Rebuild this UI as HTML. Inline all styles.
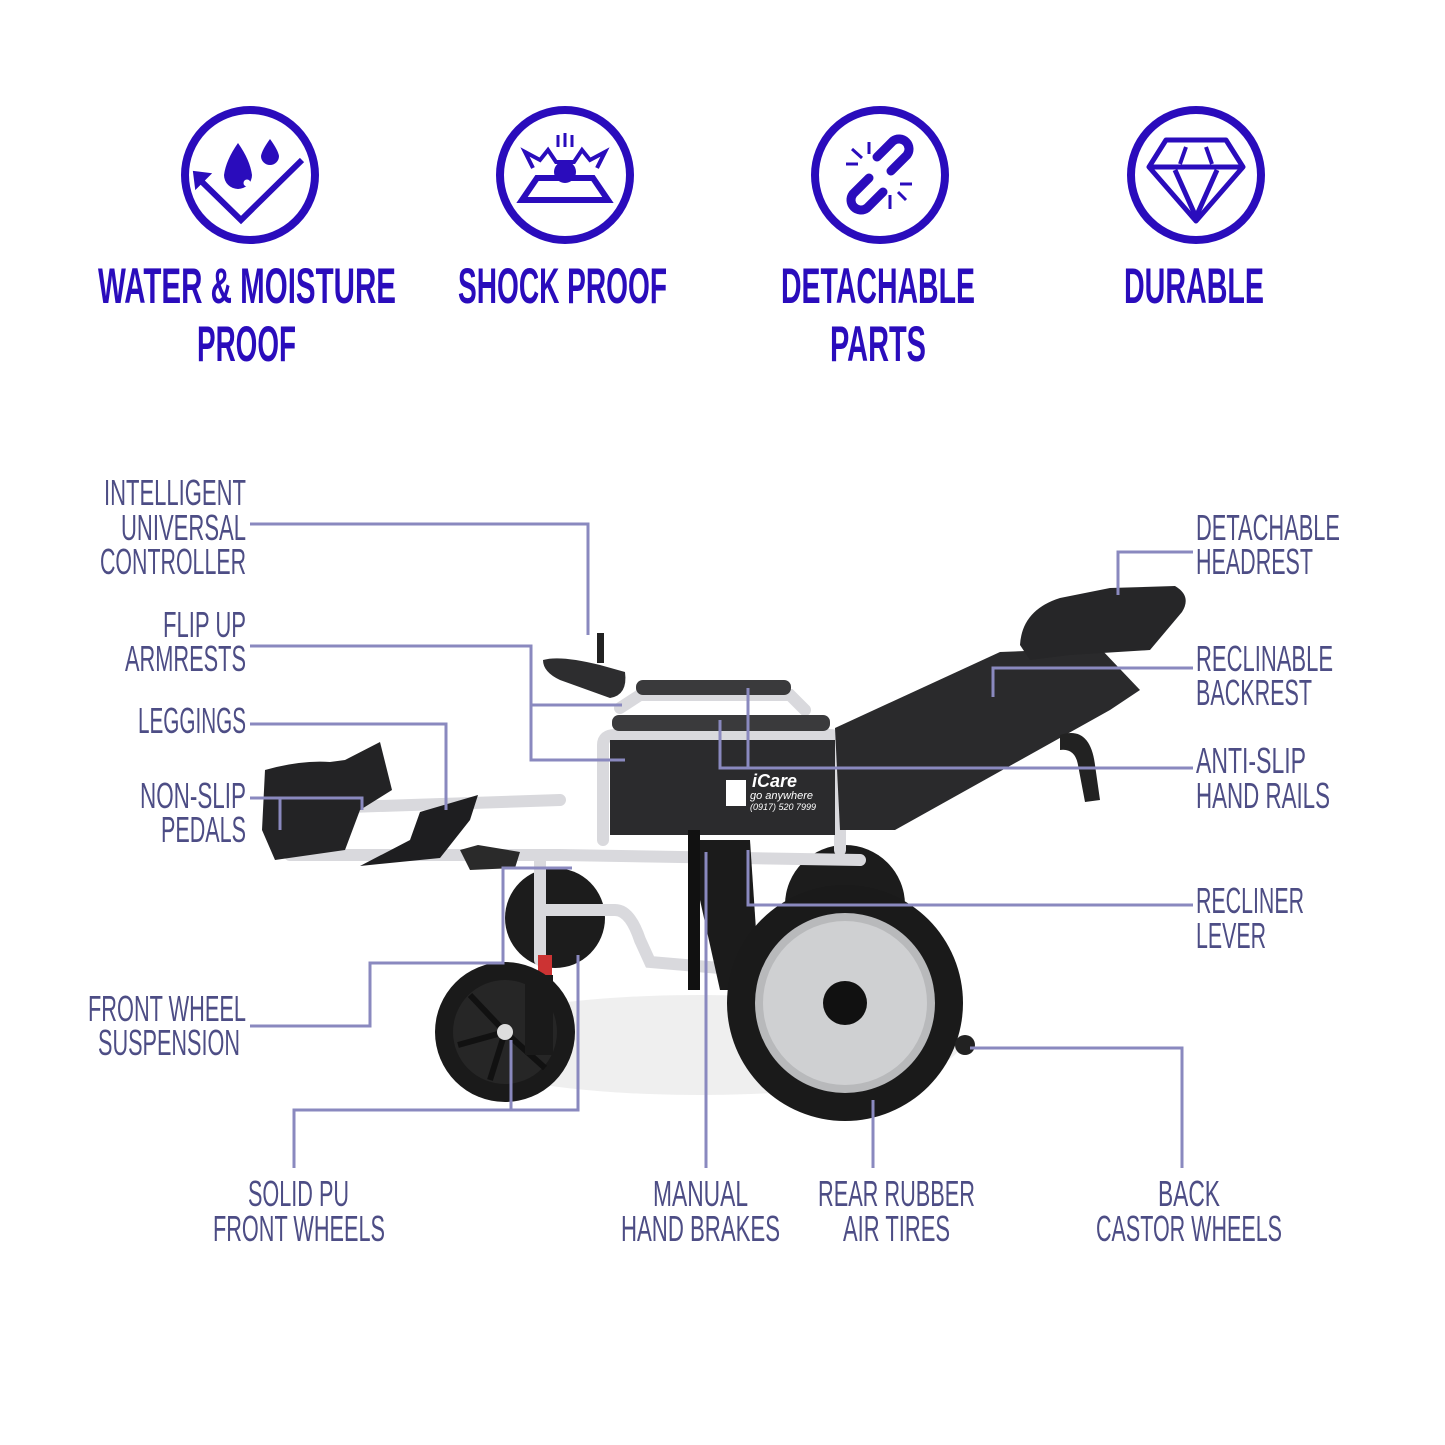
<!DOCTYPE html>
<html><head><meta charset="utf-8"><style>
html,body{margin:0;padding:0;background:#fff;}
svg{display:block}
.t{font-family:"Liberation Sans",sans-serif;font-weight:bold;fill:#2a0cbc;font-size:50px}
.l{font-family:"Liberation Sans",sans-serif;fill:#4d4d85;font-size:36px}
.c{fill:none;stroke:#8a89bf;stroke-width:3}
</style></head><body>
<svg width="1445" height="1445" viewBox="0 0 1445 1445" xmlns="http://www.w3.org/2000/svg">
<g fill="none" stroke="#2a0cbc" stroke-width="8">
<circle cx="250" cy="175" r="65"/><circle cx="565" cy="175" r="65"/><circle cx="880" cy="175" r="65"/><circle cx="1196" cy="175" r="65"/>
</g>
<g fill="#2a0cbc" stroke="#2a0cbc">
<polyline points="198,178 241,220 302,160" fill="none" stroke-width="6"/>
<polygon points="194,172 210,174 196,188" stroke-width="2"/>
<path d="M238,143 Q226,160 224,175 A14,14 0 0 0 252,175 Q250,160 238,143Z" stroke="none"/>
<circle cx="247" cy="183" r="3.5" fill="#fff" stroke="none"/>
<path d="M270,139 Q262,150 261,156 A9,9 0 0 0 279,156 Q278,150 270,139Z" stroke="none"/>
<polygon points="522,200 608,200 593,178 537,178" fill="none" stroke-width="6"/>
<circle cx="565" cy="172" r="11" stroke="none"/>
<polyline points="533,168 525,152 540,160 548,150 556,162 574,162 582,150 590,160 605,152 597,168" fill="none" stroke-width="4"/>
<line x1="558" y1="135" x2="558" y2="147" stroke-width="3"/><line x1="565" y1="133" x2="565" y2="147" stroke-width="3"/><line x1="572" y1="135" x2="572" y2="147" stroke-width="3"/>
<g fill="none" stroke-width="9" stroke-linecap="round">
<path d="M877,157 L893,141 A10,10 0 0 1 907,155 L891,171"/>
<path d="M883,192 L867,208 A10,10 0 0 1 853,194 L869,178"/>
</g>
<g stroke-width="3"><line x1="852" y1="149" x2="862" y2="158"/><line x1="846" y1="164" x2="858" y2="164"/><line x1="869" y1="142" x2="869" y2="154"/><line x1="900" y1="184" x2="912" y2="184"/><line x1="898" y1="192" x2="906" y2="200"/><line x1="890" y1="195" x2="890" y2="209"/></g>
<g fill="none" stroke-width="5" stroke-linejoin="round">
<polygon points="1166,140 1226,140 1243,167 1196,221 1149,167"/>
<line x1="1149" y1="167" x2="1243" y2="167"/>
<polyline points="1175,170 1196,217 1217,170"/>
</g>
<g stroke-width="4"><line x1="1186" y1="147" x2="1180" y2="164"/><line x1="1206" y1="147" x2="1212" y2="164"/></g>
</g>
<text class="t" x="98" y="303" textLength="298" lengthAdjust="spacingAndGlyphs">WATER &amp; MOISTURE</text>
<text class="t" x="197" y="361" textLength="99" lengthAdjust="spacingAndGlyphs">PROOF</text>
<text class="t" x="458" y="303" textLength="209" lengthAdjust="spacingAndGlyphs">SHOCK PROOF</text>
<text class="t" x="781" y="303" textLength="194" lengthAdjust="spacingAndGlyphs">DETACHABLE</text>
<text class="t" x="830" y="361" textLength="96" lengthAdjust="spacingAndGlyphs">PARTS</text>
<text class="t" x="1124" y="303" textLength="140" lengthAdjust="spacingAndGlyphs">DURABLE</text>

<ellipse cx="700" cy="1045" rx="260" ry="50" fill="#efefef"/>
<g>
<!-- hidden far wheels -->
<circle cx="555" cy="918" r="50" fill="#1c1c1c"/>
<circle cx="845" cy="905" r="60" fill="#1c1c1c"/>
<g stroke="#d9d9dd" stroke-width="12" fill="none" stroke-linecap="round">
<path d="M290,855 L560,855 L860,860"/>
<path d="M320,808 L560,800"/>
<path d="M545,910 L615,910 Q630,910 640,940 L650,962 L720,968"/>
<path d="M540,855 L540,960"/>
<path d="M603,840 L603,745 Q603,735 615,735 L830,735 Q840,735 840,745 L840,850"/>
<path d="M620,708 L640,695 L790,695 L805,710"/>
</g>
<path d="M835,728 L1000,652 L1100,648 L1140,690 L1110,710 L895,830 L840,830Z" fill="#2a2a2c"/>
<path d="M1020,645 Q1022,610 1060,598 L1110,588 L1175,586 Q1192,596 1182,612 L1150,650 L1070,655 L1030,660Z" fill="#262628"/>
<path d="M1060,735 Q1090,725 1095,765 L1100,800 L1085,802 L1078,765 Q1075,748 1060,750Z" fill="#222"/>
<rect x="610" y="740" width="225" height="95" fill="#2b2b2d"/>
<rect x="612" y="715" width="218" height="16" rx="7" fill="#3a3a3c"/>
<rect x="636" y="680" width="155" height="15" rx="7" fill="#3a3a3c"/>
<text x="752" y="787" font-family="Liberation Sans,sans-serif" font-weight="bold" font-style="italic" font-size="18" fill="#fff">iCare</text>
<text x="750" y="799" font-family="Liberation Sans,sans-serif" font-style="italic" font-size="11" fill="#fff">go anywhere</text>
<text x="750" y="810" font-family="Liberation Sans,sans-serif" font-style="italic" font-size="9" fill="#fff">(0917) 520 7999</text>
<rect x="726" y="780" width="20" height="26" fill="#fff"/>
<path d="M543,660 Q560,655 600,665 L625,672 Q628,695 610,698 L560,680 Q543,672 543,660Z" fill="#2d2d2f"/>
<rect x="597" y="633" width="7" height="30" fill="#222"/>
<path d="M420,812 L478,795 L470,820 L440,858 L360,866 L410,840 Z" fill="#1e1e20"/>
<path d="M265,770 Q300,760 330,762 L345,760 L380,742 L392,790 L360,810 L345,850 L275,860 L262,830 Z" fill="#232325"/>
<path d="M460,850 L478,845 L520,852 L515,868 L470,870 Z" fill="#2a2a2a"/>
<path d="M690,840 L750,840 L760,990 L720,990 L700,900Z" fill="#1b1b1b"/>
<rect x="688" y="830" width="12" height="160" fill="#111"/>
<circle cx="845" cy="1003" r="118" fill="#1a1a1a"/>
<circle cx="845" cy="1003" r="90" fill="#b8b9bb"/>
<circle cx="845" cy="1003" r="82" fill="#cfd0d2"/>
<circle cx="845" cy="1003" r="22" fill="#111"/>
<circle cx="965" cy="1045" r="10" fill="#222"/>
<rect x="538" y="955" width="14" height="25" fill="#c33"/>
<circle cx="505" cy="1032" r="70" fill="#1a1a1a"/>
<circle cx="505" cy="1032" r="52" fill="#262626"/>
<g stroke="#111" stroke-width="6"><line x1="505" y1="1032" x2="470" y2="995"/><line x1="505" y1="1032" x2="458" y2="1045"/><line x1="505" y1="1032" x2="490" y2="1080"/><line x1="505" y1="1032" x2="545" y2="1068"/></g>
<circle cx="505" cy="1032" r="8" fill="#ddd"/>
<rect x="525" y="975" width="28" height="80" fill="#1a1a1a"/>
</g>

<g class="c">
<polyline points="250,524 588,524 588,635"/>
<polyline points="250,646 531,646 531,760 625,760"/>
<line x1="531" y1="705" x2="622" y2="705"/>
<polyline points="250,724 446,724 446,810"/>
<polyline points="250,798 362,798 362,810"/>
<line x1="280" y1="798" x2="280" y2="830"/>
<polyline points="250,1026 370,1026 370,963 503,963 503,868 572,868"/>
<polyline points="294,1168 294,1110 578,1110 578,955"/>
<line x1="511" y1="1110" x2="511" y2="1040"/>
<line x1="706" y1="1168" x2="706" y2="852"/>
<line x1="873" y1="1168" x2="873" y2="1100"/>
<polyline points="1182,1168 1182,1048 970,1048"/>
<polyline points="1193,905 748,905 748,850"/>
<polyline points="1193,768 720,768 720,720"/>
<line x1="748" y1="768" x2="748" y2="688"/>
<polyline points="1193,668 993,668 993,697"/>
<polyline points="1193,552 1118,552 1118,595"/>
</g>

<g class="l">
<text x="104" y="505" textLength="142" lengthAdjust="spacingAndGlyphs">INTELLIGENT</text>
<text x="121" y="540" textLength="125" lengthAdjust="spacingAndGlyphs">UNIVERSAL</text>
<text x="100" y="574" textLength="146" lengthAdjust="spacingAndGlyphs">CONTROLLER</text>
<text x="163" y="637" textLength="83" lengthAdjust="spacingAndGlyphs">FLIP UP</text>
<text x="125" y="671" textLength="121" lengthAdjust="spacingAndGlyphs">ARMRESTS</text>
<text x="138" y="733" textLength="108" lengthAdjust="spacingAndGlyphs">LEGGINGS</text>
<text x="140" y="808" textLength="106" lengthAdjust="spacingAndGlyphs">NON-SLIP</text>
<text x="161" y="842" textLength="85" lengthAdjust="spacingAndGlyphs">PEDALS</text>
<text x="88" y="1021" textLength="158" lengthAdjust="spacingAndGlyphs">FRONT WHEEL</text>
<text x="98" y="1055" textLength="142" lengthAdjust="spacingAndGlyphs">SUSPENSION</text>
<text x="248" y="1206" textLength="101" lengthAdjust="spacingAndGlyphs">SOLID PU</text>
<text x="213" y="1241" textLength="172" lengthAdjust="spacingAndGlyphs">FRONT WHEELS</text>
<text x="653" y="1206" textLength="95" lengthAdjust="spacingAndGlyphs">MANUAL</text>
<text x="621" y="1241" textLength="159" lengthAdjust="spacingAndGlyphs">HAND BRAKES</text>
<text x="818" y="1206" textLength="157" lengthAdjust="spacingAndGlyphs">REAR RUBBER</text>
<text x="843" y="1241" textLength="107" lengthAdjust="spacingAndGlyphs">AIR TIRES</text>
<text x="1158" y="1206" textLength="62" lengthAdjust="spacingAndGlyphs">BACK</text>
<text x="1096" y="1241" textLength="186" lengthAdjust="spacingAndGlyphs">CASTOR WHEELS</text>
<text x="1196" y="540" textLength="144" lengthAdjust="spacingAndGlyphs">DETACHABLE</text>
<text x="1196" y="574" textLength="117" lengthAdjust="spacingAndGlyphs">HEADREST</text>
<text x="1196" y="671" textLength="137" lengthAdjust="spacingAndGlyphs">RECLINABLE</text>
<text x="1196" y="705" textLength="116" lengthAdjust="spacingAndGlyphs">BACKREST</text>
<text x="1196" y="773" textLength="110" lengthAdjust="spacingAndGlyphs">ANTI-SLIP</text>
<text x="1196" y="808" textLength="134" lengthAdjust="spacingAndGlyphs">HAND RAILS</text>
<text x="1196" y="913" textLength="108" lengthAdjust="spacingAndGlyphs">RECLINER</text>
<text x="1196" y="948" textLength="70" lengthAdjust="spacingAndGlyphs">LEVER</text>
</g>
</svg>
</body></html>
